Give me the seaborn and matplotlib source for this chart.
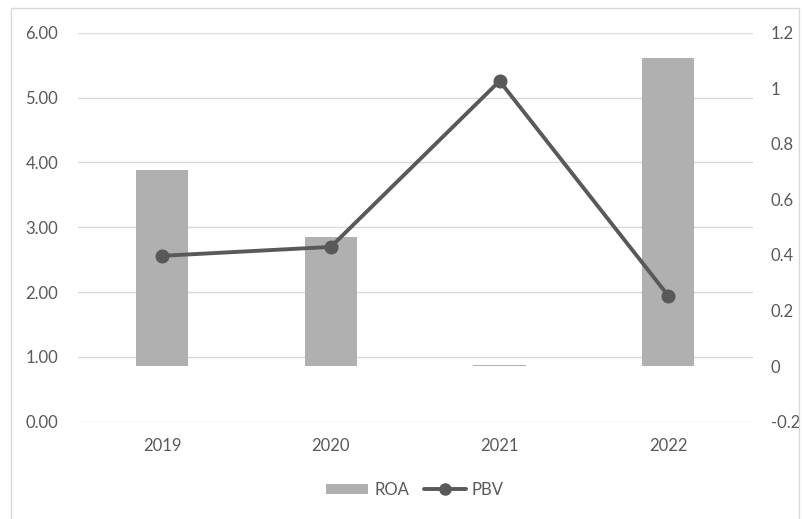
import matplotlib
matplotlib.use("Agg")
import matplotlib.pyplot as plt
import seaborn as sns
import pandas as pd
from matplotlib.patches import Patch, Rectangle
from matplotlib.lines import Line2D

years = ["2019", "2020", "2021", "2022"]
roa = [0.707, 0.466, 0.003, 1.109]
pbv = [0.397, 0.429, 1.026, 0.253]
left_ticks = [0, 1, 2, 3, 4, 5, 6]
right_ticks = [-0.2, 0, 0.2, 0.4, 0.6, 0.8, 1, 1.2]
right_labels = ["-0.2", "0", "0.2", "0.4", "0.6", "0.8", "1", "1.2"]

sns.set_style("white")
plt.rcParams["font.family"] = ["Lato", "DejaVu Sans"]

txt = "#595959"
bar_c = "#b0b0b0"
line_c = "#595959"
fs = 12

df = pd.DataFrame({"year": years, "ROA": roa, "PBV": pbv})

fig = plt.figure(figsize=(8.02, 5.19), dpi=100)
ax = fig.add_axes([0.0969, 0.1875, 0.8416, 0.7495])
ax2 = ax.twinx()

# outer frame
fig.patches.append(Rectangle((11 / 802, -0.05), (799 - 11) / 802, 1.05 - 8 / 519,
                             transform=fig.transFigure, fill=False,
                             edgecolor="#d9d9d9", linewidth=1.0))

sns.barplot(data=df, x="year", y="ROA", ax=ax2, color=bar_c, width=0.31,
            saturation=1, edgecolor="none", zorder=2)
sns.pointplot(data=df, x="year", y="PBV", ax=ax2, color=line_c, markers="o",
              linewidth=2.8, markersize=8, zorder=3)

ax.set_ylim(0, 6)
ax.set_yticks(left_ticks)
ax.set_yticklabels([f"{v:.2f}" for v in left_ticks])
ax.set_xlim(-0.5, 3.5)
ax2.set_xlim(-0.5, 3.5)
ax2.set_ylim(-0.2, 1.2)
ax2.set_yticks(right_ticks)
ax2.set_yticklabels(right_labels)

ax.yaxis.grid(True, color="#d9d9d9", linewidth=1.0)
ax.xaxis.grid(False)
for a in (ax, ax2):
    for s in a.spines.values():
        s.set_visible(False)
    a.set_xlabel("")
    a.set_ylabel("")
ax2.patch.set_visible(False)

ax.tick_params(axis="y", length=0, pad=14, labelsize=fs, labelcolor=txt)
ax2.tick_params(axis="y", length=0, pad=13, labelsize=fs, labelcolor=txt)
ax.tick_params(axis="x", length=0, pad=12, labelsize=fs, labelcolor=txt,
               labelbottom=True)
ax.set_xticks(range(len(years)))
ax.set_xticklabels(years)

handles = [Patch(facecolor=bar_c, edgecolor="none", label="ROA"),
           Line2D([0], [0], color=line_c, linewidth=2.8, marker="o",
                  markersize=8, label="PBV")]
fig.legend(handles=handles, loc="center", bbox_to_anchor=(0.5175, 0.056), ncol=2,
           frameon=False, fontsize=fs, labelcolor=txt, handlelength=2.5,
           handleheight=0.6, handletextpad=0.36, columnspacing=0.9)

fig.savefig("out.png", dpi=100)
